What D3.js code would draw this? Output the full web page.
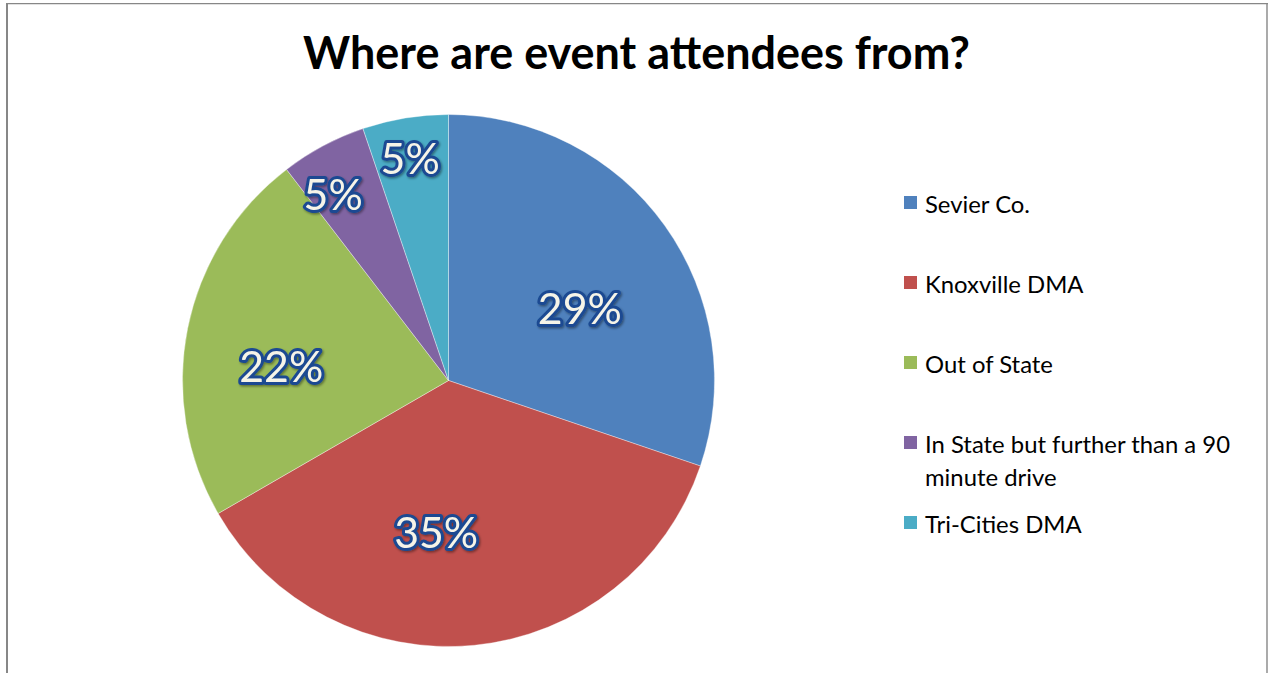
<!DOCTYPE html>
<html>
<head>
<meta charset="utf-8">
<script src="https://cdn.jsdelivr.net/npm/d3@7"></script>
<style>
  html, body { margin: 0; padding: 0; background: #ffffff; }
  svg { display: block; }
</style>
</head>
<body>
<svg id="chart" width="1268" height="673"></svg>
<script>
// Survey answers: where event attendees come from (percent of respondents)
const categories = ["Sevier Co.", "Knoxville DMA", "Out of State", "In State but further than a 90 minute drive", "Tri-Cities DMA"];
const legendLines = [["Sevier Co."], ["Knoxville DMA"], ["Out of State"], ["In State but further than a 90", "minute drive"], ["Tri-Cities DMA"]];
const values = [29, 35, 22, 5, 5];
const colors = ["#4f81bd", "#c0504d", "#9bbb59", "#8064a2", "#4bacc6"];
const titleText = "Where are event attendees from?";

// Label placement inside each slice: angle shift (degrees) from the slice middle and distance from centre
const labelShift = [6.7, 10.3, -6.0, -3.5, -0.4];
const labelDist = [150, 152, 168, 220, 226];

const W = 1268, H = 673;
const cx = 448.5, cy = 380.5, R = 266;

const svg = d3.select("#chart");

const defs = svg.append("defs");
const glow = defs.append("filter").attr("id", "lblShadow")
  .attr("x", "-20%").attr("y", "-20%").attr("width", "140%").attr("height", "140%");
glow.append("feDropShadow").attr("dx", 1.2).attr("dy", 1.5).attr("stdDeviation", 1.3)
  .attr("flood-color", "#000").attr("flood-opacity", 0.4);

// Frame
const frame = svg.append("g").attr("stroke", "#878787").attr("fill", "none");
frame.append("line").attr("x1", 6).attr("x2", 1268).attr("y1", 3.6).attr("y2", 3.6).attr("stroke-width", 1.4);
frame.append("line").attr("x1", 7).attr("x2", 7).attr("y1", 3).attr("y2", H).attr("stroke-width", 2);
frame.append("line").attr("x1", 1267).attr("x2", 1267).attr("y1", 3).attr("y2", H).attr("stroke-width", 1.4);

// Helper: pick a font size so a string reaches a target width
function fitSize(text, family, weight, targetWidth) {
  const probe = svg.append("text").attr("font-family", family).attr("font-weight", weight)
    .attr("font-size", 100).text(text);
  const w = probe.node().getComputedTextLength();
  probe.remove();
  return 100 * targetWidth / w;
}

const FONT = "Lato, 'Open Sans', 'Liberation Sans', sans-serif";

// Title
const titleSize = fitSize(titleText, FONT, 700, 667);
svg.append("text")
  .attr("x", 636.5).attr("y", 69)
  .attr("text-anchor", "middle")
  .attr("font-family", FONT).attr("font-weight", 700)
  .attr("font-size", titleSize)
  .attr("fill", "#000")
  .text(titleText);

// Pie
const pie = d3.pie().sort(null).value(d => d)(values);
const arc = d3.arc().innerRadius(0).outerRadius(R);

const g = svg.append("g").attr("transform", `translate(${cx},${cy})`);
g.selectAll("path.slice")
  .data(pie)
  .join("path")
  .attr("class", "slice")
  .attr("d", arc)
  .attr("fill", (d, i) => colors[i])
  .attr("stroke", "rgba(255,255,255,0.45)")
  .attr("stroke-width", 0.8);

// Value labels
const lblSize = fitSize("29%", FONT, 400, 84);
g.selectAll("text.val")
  .data(pie)
  .join("text")
  .attr("class", "val")
  .attr("transform", (d, i) => {
    const a = (d.startAngle + d.endAngle) / 2 + labelShift[i] * Math.PI / 180;
    return `translate(${labelDist[i] * Math.sin(a)},${-labelDist[i] * Math.cos(a)})`;
  })
  .attr("text-anchor", "middle")
  .attr("dominant-baseline", "central")
  .attr("font-family", FONT)
  .attr("font-size", lblSize)
  .attr("fill", "#f6f4e8")
  .attr("stroke", "#1a4a92")
  .attr("stroke-width", 6)
  .attr("stroke-linejoin", "round")
  .attr("paint-order", "stroke")
  .attr("filter", "url(#lblShadow)")
  .text(d => d.value + "%");

// Legend
const legSize = fitSize("Sevier Co.", FONT, 400, 105);
const rowY = d3.scalePoint().domain(categories).range([203, 523]);
const leg = svg.append("g");
const rows = leg.selectAll("g.row")
  .data(categories)
  .join("g")
  .attr("class", "row")
  .attr("transform", d => `translate(0,${rowY(d)})`);
rows.append("rect")
  .attr("x", 904).attr("y", -7)
  .attr("width", 13).attr("height", 13)
  .attr("fill", (d, i) => colors[i]);
rows.append("text")
  .attr("font-family", FONT)
  .attr("font-size", legSize)
  .attr("fill", "#000")
  .selectAll("tspan")
  .data((d, i) => legendLines[i])
  .join("tspan")
  .attr("x", 925)
  .attr("y", (d, j) => j * 33)
  .attr("dominant-baseline", "central")
  .text(d => d);
</script>
</body>
</html>
